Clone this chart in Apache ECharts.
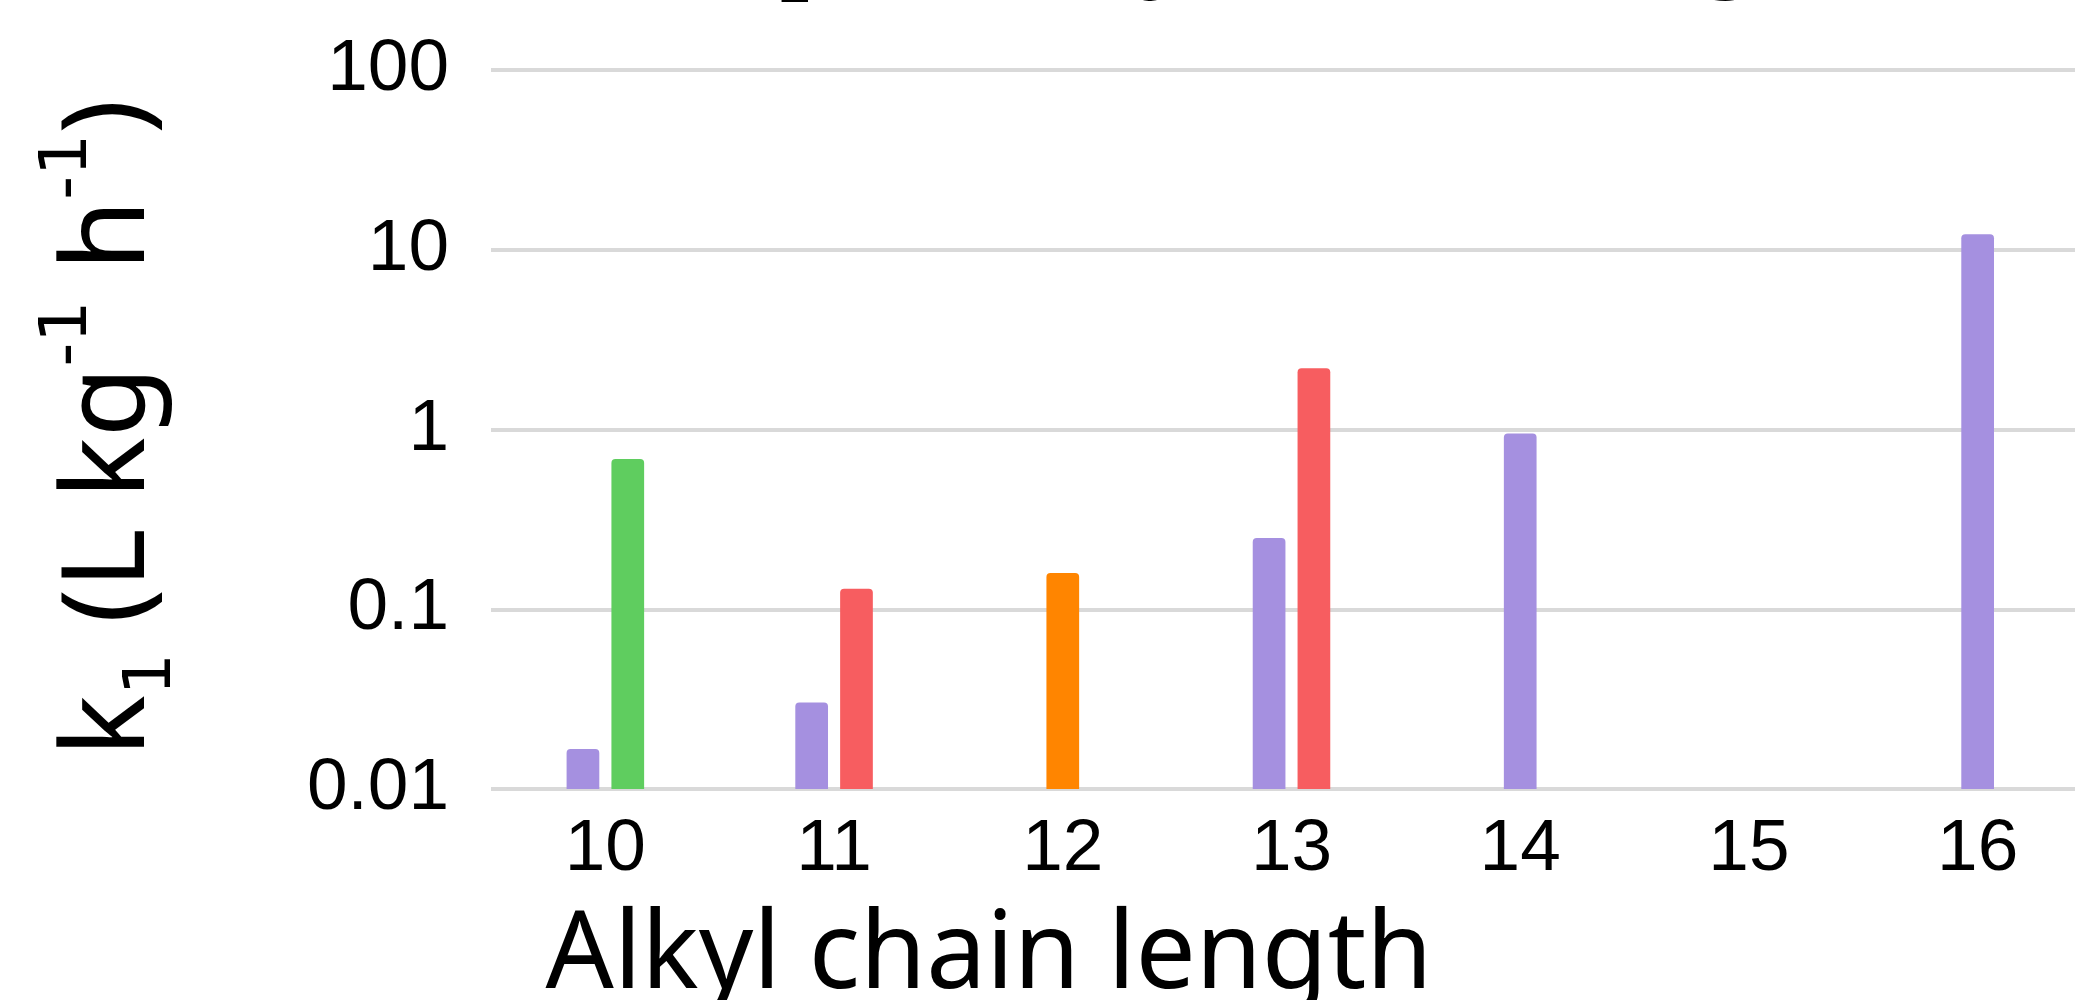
<!DOCTYPE html>
<html>
<head>
<meta charset="utf-8">
<script src="https://cdn.jsdelivr.net/npm/echarts@6/dist/echarts.min.js"></script>
<style>
  html, body { margin: 0; padding: 0; background: #ffffff; }
  #chart { width: 2075px; height: 1000px; }
</style>
</head>
<body>
<div id="chart"></div>
<script>
// Alkyl chain length categories
const categories = ['10', '11', '12', '13', '14', '15', '16'];

// k1 values (L kg-1 h-1) per data set, null where no measurement exists
const purpleK1 = [0.0167, 0.0303, null, 0.249, 0.95, null, 12.2];
const greenK1  = [0.686, null, null, null, null, null, null];
const redK1    = [null, 0.130, null, 2.19, null, null, null];
const orangeK1 = [null, null, 0.159, null, null, null, null];

// Logarithmic value-axis labels
const yTickLabels = ['0.01', '0.1', '1', '10', '100'];

const Y_MIN = 0.01;
const Y_MAX = 100;

const groups = [
  { name: 'purple', values: purpleK1, color: '#a590e0' },
  { name: 'green',  values: greenK1,  color: '#5fcd5f' },
  { name: 'red',    values: redK1,    color: '#f75d60' },
  { name: 'orange', values: orangeK1, color: '#ff8500' }
];

// Bars present in each category; each category's bars are centred on its tick
const present = categories.map((_, i) =>
  groups.filter(g => g.values[i] != null).map(g => g.name));

const BAR_FRACTION = 0.143;  // bar width as share of the category band
const GAP_FRACTION = 0.053;  // gap between neighbouring bars

function makeSeries(g) {
  return {
    type: 'custom',
    name: g.name,
    z: 5,
    encode: { x: 0, y: 1 },
    data: g.values.map((v, i) => (v == null ? null : [i, v])).filter(Boolean),
    renderItem: function (params, api) {
      const i = api.value(0);
      const v = api.value(1);
      const band = api.size([1, 0])[0];
      const bw = band * BAR_FRACTION;
      const gap = band * GAP_FRACTION;
      const list = present[i];
      const n = list.length;
      const k = list.indexOf(g.name);
      const top = api.coord([i, v]);
      const base = api.coord([i, Y_MIN]);
      const total = n * bw + (n - 1) * gap;
      const x0 = top[0] - total / 2 + k * (bw + gap);
      return {
        type: 'rect',
        shape: { x: x0, y: top[1], width: bw, height: base[1] - top[1], r: [4, 4, 0, 0] },
        style: { fill: g.color }
      };
    }
  };
}

const chart = echarts.init(document.getElementById('chart'), null, { renderer: 'canvas' });

const titleFont = '"Noto Sans", "Open Sans", sans-serif';
const oneFont = '"DejaVu Sans", sans-serif';
const tickFont = '"Liberation Sans", Arial, sans-serif';

chart.setOption({
  animation: false,
  backgroundColor: '#ffffff',
  // the plot runs past the right edge of the canvas
  grid: {
    left: 491, width: 1601, top: 70, bottom: 211,
    containLabel: false,
    outerBoundsMode: 'none'
  },
  xAxis: {
    type: 'category',
    data: categories,
    boundaryGap: true,
    axisLine: { show: false },
    axisTick: { show: false },
    splitLine: { show: false },
    axisLabel: {
      color: '#000000',
      fontFamily: tickFont,
      fontSize: 73,
      margin: 24
    }
  },
  yAxis: {
    type: 'log',
    logBase: 10,
    min: Y_MIN,
    max: Y_MAX,
    axisLine: { show: false },
    axisTick: { show: false },
    splitLine: { show: true, lineStyle: { color: '#d9d9d9', width: 4 } },
    axisLabel: {
      color: '#000000',
      fontFamily: tickFont,
      fontSize: 73,
      margin: 42,
      formatter: function (value) {
        const idx = Math.round(Math.log10(value) - Math.log10(Y_MIN));
        return yTickLabels[idx] != null ? yTickLabels[idx] : '';
      }
    }
  },
  graphic: [
    {
      // chart heading, mostly above the top edge
      type: 'text',
      x: 1290,
      y: -54,
      silent: true,
      style: {
        text: '{m|k}{s|1}{m| vs. alkyl chain length}',
        align: 'center',
        verticalAlign: 'middle',
        rich: {
          m: { fontFamily: titleFont, fontSize: 105, lineHeight: 142, fill: '#000', verticalAlign: 'middle' },
          s: { fontFamily: oneFont, fontSize: 63, lineHeight: 63, fill: '#000', verticalAlign: 'bottom' }
        }
      }
    },
    {
      // value-axis title
      type: 'text',
      x: 111,
      y: 428,
      rotation: Math.PI / 2,
      silent: true,
      style: {
        text: '{m|k}{s|1}{m| (L kg}{p|-1}{m| h}{p|-1}{m|)}',
        align: 'center',
        verticalAlign: 'middle',
        rich: {
          m: { fontFamily: titleFont, fontSize: 115, lineHeight: 150, fill: '#000', verticalAlign: 'middle' },
          s: { fontFamily: oneFont, fontSize: 66, lineHeight: 66, fill: '#000', verticalAlign: 'bottom' },
          p: { fontFamily: oneFont, fontSize: 66, lineHeight: 66, fill: '#000', verticalAlign: 'top' }
        }
      }
    },
    {
      // category-axis title
      type: 'text',
      x: 989,
      y: 958,
      silent: true,
      style: {
        text: 'Alkyl chain length',
        fontFamily: titleFont,
        fontSize: 107,
        fill: '#000',
        align: 'center',
        verticalAlign: 'middle'
      }
    }
  ],
  series: groups.map(makeSeries)
});
</script>
</body>
</html>
